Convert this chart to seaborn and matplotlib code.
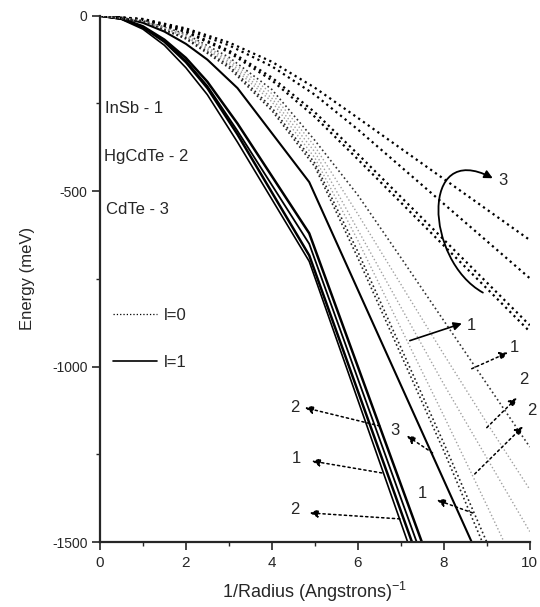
import matplotlib
matplotlib.use("Agg")
import matplotlib.pyplot as plt
import seaborn as sns
from matplotlib.lines import Line2D
from matplotlib.patches import FancyArrowPatch
from matplotlib.path import Path

# l=1 curves (solid), 1/R knots and energy (meV)
knots_solid = [0, 0.5, 1, 1.5, 2, 2.5, 3.2, 4.87]
cdte_l1_x = knots_solid + [8.65]
cdte_l1_y = [0, -5, -20, -45, -80, -125, -206, -474, -1500]
hgcdte_l1_x = knots_solid + [7.49]
hgcdte_l1_y = [0, -8, -30, -68, -120, -188, -307, -620, -1500]
hgcdte_l1b_x = knots_solid + [7.37]
hgcdte_l1b_y = [0, -8, -32, -72, -128, -200, -328, -650, -1500]
insb_l1_x = knots_solid + [7.26]
insb_l1_y = [0, -8, -33, -74, -132, -206, -338, -683, -1500]
insb_l1b_x = knots_solid + [7.16]
insb_l1b_y = [0, -10, -38, -84, -148, -225, -360, -700, -1500]

# l=0 curves (dotted), sampled at 1/R = 0..10
inv_r = [0, 1, 2, 3, 4, 5, 6, 7, 8, 9, 10]
cdte_l0_a = [0, -9, -36, -76, -131, -205, -291, -378, -465, -552, -639]
cdte_l0_b = [0, -10, -39, -84, -144, -225, -324, -430, -536, -642, -748]
cdte_l0_c = [0, -11, -44, -99, -176, -275, -394, -516, -638, -760, -882]
cdte_l0_d = [0, -12, -46, -104, -184, -288, -409, -532, -655, -777, -900]
insb_l0_a = [0, -13, -52, -118, -210, -355, -511, -689, -869, -1049, -1229]
grey_l0_a = [0, -14, -55, -124, -222, -372, -565, -765, -965, -1160, -1350]
grey_l0_b = [0, -14, -58, -130, -235, -388, -610, -830, -1050, -1260, -1470]
grey_l0_c = [0, -15, -60, -136, -245, -405, -640, -890, -1140, -1395, -1655]
hg_l0_a = [0, -16, -63, -142, -262, -420, -672, -945, -1218, -1500, -1780]
hg_l0_b = [0, -16, -66, -148, -270, -430, -690, -965, -1240, -1530, -1820]

sns.set_style("ticks")
plt.rcParams['font.family'] = ['Liberation Sans', 'DejaVu Sans']
plt.rcParams['mathtext.fontset'] = 'custom'
plt.rcParams['mathtext.rm'] = 'Liberation Sans'
plt.rcParams['axes.unicode_minus'] = False

fig = plt.figure(figsize=(5.4, 6.07), dpi=100)
ax = fig.add_axes([0.185, 0.107, 0.796, 0.867])

# solid l=1 lines
for xs, ys, w in [(cdte_l1_x, cdte_l1_y, 1.5), (hgcdte_l1_x, hgcdte_l1_y, 1.8),
                  (hgcdte_l1b_x, hgcdte_l1b_y, 1.3), (insb_l1_x, insb_l1_y, 1.8),
                  (insb_l1b_x, insb_l1b_y, 1.2)]:
    sns.lineplot(x=xs, y=ys, ax=ax, color='black', lw=w, sort=False, estimator=None)

# dotted l=0 lines
dark = [cdte_l0_a, cdte_l0_b, cdte_l0_c, cdte_l0_d]
for ys in dark:
    sns.lineplot(x=inv_r, y=ys, ax=ax, color='black', lw=1.6, linestyle=':', sort=False, estimator=None)
sns.lineplot(x=inv_r, y=insb_l0_a, ax=ax, color='#333333', lw=1.2, linestyle=':', sort=False, estimator=None)
for ys in [grey_l0_a, grey_l0_b, grey_l0_c]:
    sns.lineplot(x=inv_r, y=ys, ax=ax, color='#a0a0a0', lw=1.0, linestyle=':', sort=False, estimator=None)
for ys in [hg_l0_a, hg_l0_b]:
    sns.lineplot(x=inv_r, y=ys, ax=ax, color='#222222', lw=1.2, linestyle=':', sort=False, estimator=None)

ax.set_xlim(0, 10)
ax.set_ylim(-1500, 0)
ax.set_xticks([0, 2, 4, 6, 8, 10])
ax.set_xticks([1, 3, 5, 7, 9], minor=True)
ax.set_yticks([0, -500, -1000, -1500])
ax.set_yticks([-250, -750, -1250], minor=True)
ax.tick_params(axis='both', which='major', length=6, width=1.2, direction='out')
ax.tick_params(axis='both', which='minor', length=3, width=1.0, direction='out')
ax.tick_params(axis='x', labelsize=11, pad=4)
ax.tick_params(axis='y', labelsize=10, pad=3)
for s in ['top', 'right']:
    ax.spines[s].set_visible(False)
for s in ['left', 'bottom']:
    ax.spines[s].set_linewidth(1.6)

ax.set_xlabel('1/Radius (Angstrons)$^{-1}$', fontsize=13, labelpad=7)
ax.set_ylabel('Energy (meV)', fontsize=12, labelpad=12)

# material key
ax.text(0.12, -263, 'InSb - 1', fontsize=12, va='center')
ax.text(0.10, -400, 'HgCdTe - 2', fontsize=12, va='center')
ax.text(0.14, -551, 'CdTe - 3', fontsize=12, va='center')

ax.legend(handles=[Line2D([], [], color='black', ls=':', lw=0.9),
                   Line2D([], [], color='black', lw=1.2)],
          labels=['l=0', 'l=1'], loc='upper left', bbox_to_anchor=(0.03, 0.445),
          frameon=False, handlelength=2.65, handletextpad=0.4, labelspacing=1.9,
          borderpad=0, borderaxespad=0, fontsize=12)

# labelled arrows: (text, label pos, arrow head, arrow tail, solid?)
arrows = [
    ('1', (8.65, -883), (8.42, -877), (7.21, -926), True),
    ('1', (9.65, -946), (9.49, -960), (8.65, -1006), False),
    ('2', (9.86, -1037), (9.70, -1089), (9.00, -1174), False),
    ('2', (10.05, -1126), (9.84, -1171), (8.72, -1306), False),
    ('3', (6.86, -1183), (7.14, -1197), (7.74, -1246), False),
    ('2', (4.53, -1117), (4.77, -1117), (6.51, -1169), False),
    ('1', (4.58, -1263), (4.93, -1269), (6.56, -1303), False),
    ('2', (4.53, -1406), (4.88, -1417), (6.98, -1434), False),
    ('1', (7.51, -1363), (7.84, -1380), (8.67, -1417), False),
]
for lab, tpos, head, tail, solid in arrows:
    ax.annotate('', xy=head, xytext=tail,
                arrowprops=dict(arrowstyle='-|>', color='black', lw=1.2 if solid else 1.1,
                                linestyle='-' if solid else (0, (1.5, 2.0)),
                                shrinkA=0, shrinkB=0, mutation_scale=12),
                annotation_clip=False)
    ax.text(tpos[0], tpos[1], lab, fontsize=12, ha='center', va='center', clip_on=False)

# curved arrow marking the CdTe l=0 bundle
loop = Path([(8.91, -789), (7.56, -697), (7.44, -354), (9.14, -463)],
            [Path.MOVETO, Path.CURVE4, Path.CURVE4, Path.CURVE4])
ax.add_patch(FancyArrowPatch(path=loop, arrowstyle='-|>', color='black', lw=1.3,
                             mutation_scale=12, transform=ax.transData))
ax.text(9.38, -470, '3', fontsize=12, ha='center', va='center')

fig.savefig('out.png', dpi=100)
